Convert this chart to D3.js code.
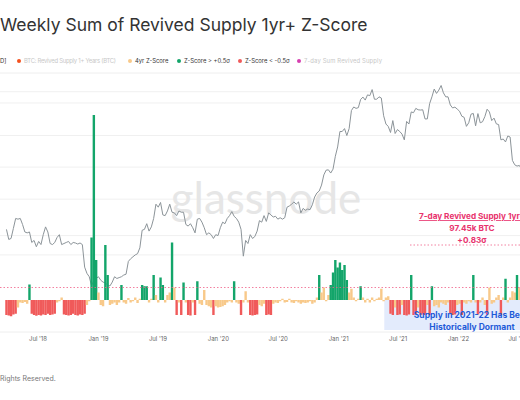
<!DOCTYPE html>
<html><head><meta charset="utf-8">
<script src="https://cdn.jsdelivr.net/npm/d3@7"></script>
<style>body{margin:0;background:#fff}svg{display:block;font-family:Inter,"Noto Sans",sans-serif}</style>
</head><body><svg id="c" width="520" height="400"></svg>
<script>
const startDate = "2018-03-27";
const zScores = [
-0.6,-0.62,-0.65,-0.58,-0.55,-0.3,-0.1,-0.12,-0.08,-0.15,
0.62,-0.55,-0.6,-0.63,-0.6,-0.62,-0.58,-0.6,-0.55,-0.6,
-0.58,-0.55,-0.1,-0.05,0.1,-0.58,-0.6,-0.62,-0.6,-0.55,
-0.6,-0.62,-0.58,-0.6,-0.55,-0.2,-0.05,2.5,7.4,1.6,
0.3,-0.2,-0.25,2.2,1.0,-0.2,-0.15,-0.1,-0.2,-0.1,
0.6,-0.1,-0.15,0.08,-0.1,-0.05,0.1,-0.12,0.05,0.6,
0.55,0.55,-0.1,0.05,1.0,0.2,-0.1,0.9,0.6,-0.1,
0.2,0.3,2.3,0.5,-0.6,-0.1,-0.6,0.7,-0.1,-0.6,
-0.62,-0.1,-0.6,0.75,-0.15,-0.2,0.4,-0.2,-0.25,-0.3,
-0.6,-0.25,-0.3,-0.28,-0.25,-0.2,-0.1,-0.05,-0.1,0.75,
-0.1,-0.15,-0.6,-0.1,0.35,-0.1,-0.6,-0.62,-0.6,-0.58,
-0.2,-0.25,-0.15,-0.6,-0.58,-0.6,-0.15,-0.1,-0.12,-0.05,
0.05,-0.1,-0.08,0.05,-0.1,-0.12,-0.05,-0.1,-0.15,-0.1,
-0.12,-0.1,-0.05,-0.15,-0.1,0.1,1.0,0.3,0.5,-0.05,
0.2,0.6,1.1,1.6,1.3,1.5,1.2,1.4,0.8,0.3,
0.45,0.1,-0.05,0.05,0.55,0.1,-0.1,0.05,-0.1,0.1,
-0.05,0.05,0.1,0.45,-0.05,0.1,0.15,-0.55,-0.6,-0.3,
-0.6,-0.58,-0.2,-0.6,-0.62,-0.58,1.0,-0.6,-0.55,-0.3,
-0.6,-0.58,-0.6,-0.2,-0.6,0.55,-0.25,-0.2,-0.3,-0.1,
-0.15,-0.2,-0.1,-0.55,-0.6,-0.58,-0.2,-0.15,-0.6,-0.1,
-0.15,-0.05,-0.1,1.0,-0.1,-0.58,-0.1,0.1,-0.2,-0.6,
0.5,-0.15,-0.1,0.1,0.2,-0.6,0.1,0.85,-0.1,0.1,
0.35,0.3,1.0,0.5,0.2];
const prices = [
7900,6800,6900,
8000,9300,9200,9300,8500,7600,7500,7600,6500,6700,6100,6600,6300,7300,8200,7600,6400,6300,6500,7000,7300,6300,6400,6500,6600,6300,6500,6450,6350,6450,6300,4500,4100,3900,3400,3700,3800,
3900,3700,3600,3550,3450,3400,3600,3900,3800,3850,3900,4000,4050,4900,5100,5250,5400,5500,6000,7800,7900,8600,7700,8200,9300,11500,11000,11800,9800,9700,10400,11500,10200,10100,9700,10400,10200,10200,8500,8300,8600,8100,7500,9200,9300,8800,8100,7300,7500,7300,6900,7300,7200,
8100,8800,8600,9300,9700,10300,9600,9300,8800,7900,5300,6700,6400,7300,6900,7100,7700,9000,8800,9700,8900,10100,9800,9500,9600,9200,9400,9200,9400,11000,11200,11500,11900,11500,11900,10100,10800,10500,10700,10600,11400,12800,13600,14000,15300,17800,19100,19200,18300,19400,23500,27000,
34000,34000,35500,32000,35500,46500,49000,48000,48500,54800,56800,54300,58700,58000,63500,55000,55000,57000,56000,43000,38000,36700,33500,40000,33000,35000,34000,32700,30000,39500,38000,45500,45000,48000,47000,46800,47000,41000,41000,51500,57000,64000,60000,63000,67500,60500,57000,57000,50500,48300,48900,47500,
46000,42700,42000,36700,38700,44000,44500,37000,44400,38700,39300,42400,47400,45500,40000,41500,38100,37700,30000,30400,29100,31800,31300,22100,20700,20300,20500,19300,23300];
const xTickDates = ["2018-07-01","2019-01-01","2019-07-01","2020-01-01","2020-07-01","2021-01-01","2021-07-01","2022-01-01","2022-07-01"];
const xTickLabels = ["Jul '18","Jan '19","Jul '19","Jan '20","Jul '20","Jan '21","Jul '21","Jan '22","Jul '22"];
const gridPrices = [5400,7200,12400,20000,32000,52000,61500];
const legendItems = [
 {label:"BTC: Revived Supply 1+ Years (BTC)", color:"#f4511e", faded:true},
 {label:"4yr Z-Score", color:"#f8c98a", faded:false},
 {label:"Z-Score > +0.5σ", color:"#13a56a", faded:false},
 {label:"Z-Score < -0.5σ", color:"#f05a5a", faded:false},
 {label:"7-day Sum Revived Supply", color:"#d63fb0", faded:true}];
const annotationLines = ["7-day Revived Supply 1yr+","97.45k BTC","+0.83σ"];
const dormantLines = ["Supply in 2021-22 Has Been","Historically Dormant"];

const svg = d3.select("#c");
const parse = d3.utcParse("%Y-%m-%d");
const t0 = parse(startDate);
const wk = i => d3.utcDay.offset(t0, 7*i);
const x = d3.scaleUtc().domain([parse("2018-07-01"), parse("2022-07-01")]).range([38, 518]);
const yP = d3.scaleLog().domain([3200, 68000]).range([290, 85]);
const yZ = d3.scaleLinear().domain([-1, 8]).range([325, 100]);

svg.append("text").attr("x",0).attr("y",31).attr("font-size",17.5).attr("fill","#333").text("Weekly Sum of Revived Supply 1yr+ Z-Score");
const lg = svg.append("g").attr("font-size",5.9);
lg.append("text").attr("x",0).attr("y",63).attr("fill","#333").text("D]");
const lx=[19,130,179,240,299];
legendItems.forEach((d,i)=>{
 lg.append("circle").attr("cx",lx[i]).attr("cy",61).attr("r",2).attr("fill",d.color);
 lg.append("text").attr("x",lx[i]+5).attr("y",63).attr("fill",d.faded?"#c8c8c8":"#333")
   .attr("textLength",d.faded?(i==0?92:78):null).text(d.label);
});
svg.append("line").attr("x1",0).attr("x2",520).attr("y1",73).attr("y2",73).attr("stroke","#eee");
svg.append("g").selectAll("line").data(gridPrices).join("line")
 .attr("x1",0).attr("x2",520).attr("y1",d=>yP(d)).attr("y2",d=>yP(d)).attr("stroke","#f0f0f0");
svg.append("text").attr("x",266).attr("y",214).attr("text-anchor","middle").attr("font-size",44)
 .attr("fill","#e6e6e6").attr("font-family","Lato, sans-serif").text("glassnode");
svg.append("rect").attr("x",x(parse("2021-05-20"))).attr("y",yZ(0)).attr("width",200).attr("height",30).attr("fill","#e3ebfc");
svg.append("path").datum(prices).attr("fill","none").attr("stroke","#8c9499").attr("stroke-width",1)
 .attr("d",d3.line().x((d,i)=>x(wk(i))).y(d=>yP(d)));
const col = z => z>0.5?"#13a56a":(z<-0.5?"#f05a5a":"#f8c98a");
svg.append("g").selectAll("rect").data(zScores).join("rect")
 .attr("x",(d,i)=>x(wk(i))-1.2).attr("width",2.4)
 .attr("y",d=>Math.min(yZ(d),yZ(0))).attr("height",d=>Math.abs(yZ(d)-yZ(0)))
 .attr("fill",d=>col(d));
svg.append("line").attr("x1",0).attr("x2",520).attr("y1",yZ(0.5)).attr("y2",yZ(0.5))
 .attr("stroke","#f06088").attr("stroke-dasharray","1.5,2").attr("stroke-width",0.8);
const an = svg.append("g").attr("fill","#e8336d").attr("font-weight","bold").attr("font-size",8.2).attr("text-anchor","middle");
annotationLines.forEach((t,i)=>an.append("text").attr("x",472).attr("y",219+i*12).attr("text-decoration",i==0?"underline":null).text(t));
svg.append("line").attr("x1",410).attr("x2",520).attr("y1",yZ(2.2)).attr("y2",yZ(2.2))
 .attr("stroke","#f06088").attr("stroke-dasharray","1.5,2").attr("stroke-width",0.8);
const dn = svg.append("g").attr("fill","#1f5bd8").attr("font-weight","bold").attr("font-size",8.5).attr("text-anchor","middle");
dormantLines.forEach((t,i)=>dn.append("text").attr("x",472).attr("y",318+i*12).text(t));
svg.append("line").attr("x1",0).attr("x2",520).attr("y1",332).attr("y2",332).attr("stroke","#eee");
svg.append("g").attr("font-size",6).attr("fill","#666").attr("text-anchor","middle")
 .selectAll("text").data(xTickDates).join("text")
 .attr("x",d=>x(parse(d))).attr("y",341).text((d,i)=>xTickLabels[i]);
svg.append("text").attr("x",51).attr("y",381).attr("font-size",7).attr("fill","#777")
 .attr("text-anchor","end").text("All Rights Reserved.").attr("x",51).attr("dx",0).text("Rights Reserved.").attr("text-anchor","start").attr("x",0);
</script></body></html>
